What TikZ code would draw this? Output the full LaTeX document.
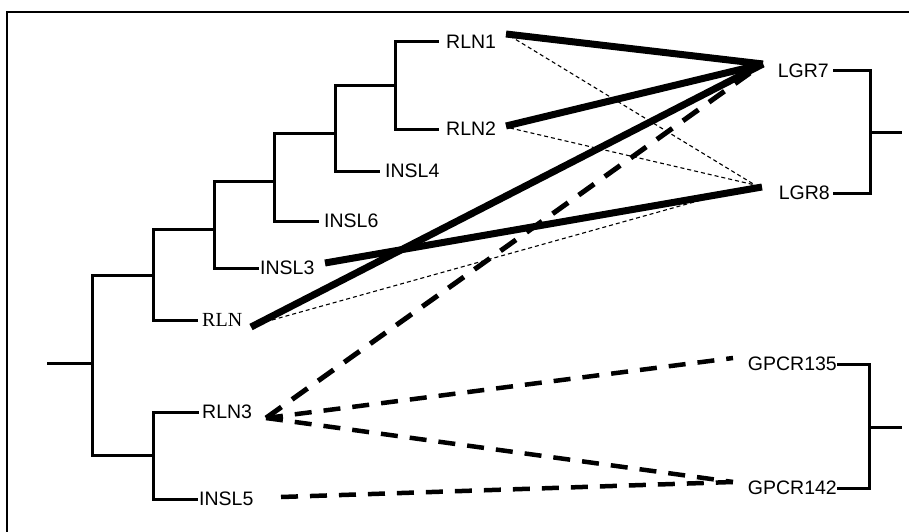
\documentclass[tikz,border=0pt]{standalone}
\usepackage{fontspec}
\setmainfont{Liberation Sans}
\newfontfamily\timesf{Liberation Serif}
\begin{document}
\begin{tikzpicture}[x=1pt,y=-1pt,
  lbl/.style={inner sep=0pt,font=\fontsize{19.5}{22}\selectfont},
  tree/.style={line width=3pt,line cap=rect},
  strong/.style={line width=7pt},
  weak/.style={line width=1.1pt,dash pattern=on 4pt off 3pt},
  dashbig/.style={line width=5pt,dash pattern=on 19pt off 13pt},
  dashmid/.style={line width=4.5pt,dash pattern=on 17pt off 12pt}]
\useasboundingbox (0,0) rectangle (909,532);
% frame
\draw[line width=1.4pt] (7,532) -- (7,12) -- (909,12);
% labels
\node[lbl,anchor=base west] (rln1) at (446,48.8) {RLN1};
\node[lbl,anchor=base west] (rln2) at (446,135.8) {RLN2};
\node[lbl,anchor=base west] (insl4) at (385,177.8) {INSL4};
\node[lbl,anchor=base west] (insl6) at (324,227.8) {INSL6};
\node[lbl,anchor=base west] (insl3) at (260,274.8) {INSL3};
\node[lbl,anchor=base west,font=\timesf\fontsize{20}{22}\selectfont] (rln) at (202,326.5) {RLN};
\node[lbl,anchor=base west] (rln3) at (202,418.8) {RLN3};
\node[lbl,anchor=base west] (insl5) at (199,505.8) {INSL5};
\node[lbl,anchor=base east] (lgr7) at (829,77.8) {LGR7};
\node[lbl,anchor=base east] (lgr8) at (830,199.8) {LGR8};
\node[lbl,anchor=base east] (gp135) at (837,370.8) {GPCR135};
\node[lbl,anchor=base east] (gp142) at (837,494.8) {GPCR142};
% left tree
\draw[tree] (48,363) -- (92,363);
\draw[tree] (153,275) -- (92,275) -- (92,455) -- (153,455);
\draw[tree] (214,229) -- (153,229) -- (153,320) -- (196,320);
\draw[tree] (197,412) -- (153,412) -- (153,499) -- (196,499);
\draw[tree] (274,181) -- (214,181) -- (214,268) -- (257,268);
\draw[tree] (335,133) -- (274,133) -- (274,221) -- (317,221);
\draw[tree] (395,86) -- (335,86) -- (335,171) -- (378,171);
\draw[tree] (437,42) -- (395,42) -- (395,129) -- (437,129);
% right trees
\draw[tree] (834,71) -- (870,71) -- (870,193) -- (834,193);
\draw[tree] (870,132) -- (900,132);
\draw[tree] (838,364) -- (869,364) -- (869,488) -- (838,488);
\draw[tree] (869,427) -- (900,427);
% connector end points
\coordinate (a1) at (506,34);
\coordinate (a2) at (506,126);
\coordinate (a3) at (325,263);
\coordinate (a4) at (251,327);
\coordinate (b1) at (510,36);
\coordinate (b2) at (510,128);
\coordinate (b4) at (272,320);
\coordinate (c3) at (266,418);
\coordinate (c5) at (281,497);
\coordinate (t7) at (763,64);
\coordinate (t8) at (762,187);
\coordinate (u8) at (755,185);
\coordinate (v7) at (750,73);
\coordinate (g135) at (733,358);
\coordinate (g142) at (733,482);
% weak (thin dotted)
\draw[weak] (b1) -- (u8);
\draw[weak] (b2) -- (u8);
\draw[weak] (b4) -- (u8);
% dashed
\draw[dashbig] (c3) -- (v7);
\draw[dashmid] (c3) -- (g135);
\draw[dashmid] (c3) -- (g142);
\draw[dashmid] (c5) -- (g142);
% strong
\draw[strong] (a1) -- (t7);
\draw[strong] (a2) -- (t7);
\draw[strong] (a4) -- (t7);
\draw[strong] (a3) -- (t8);
\end{tikzpicture}
\end{document}
